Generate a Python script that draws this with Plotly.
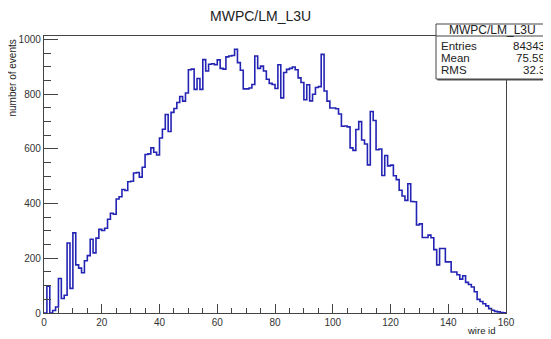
import plotly.graph_objects as go

# ---- data ----
title = "MWPC/LM_L3U"
x_label = "wire id"
y_label = "number of events"
n_bins = 160
x_min, x_max = 0, 160
counts = [
    0, 98, 0, 9, 22, 126, 53, 65, 256, 90,
    293, 176, 164, 147, 191, 210, 270, 220, 274, 306,
    302, 310, 343, 365, 361, 417, 425, 452, 448, 480,
    482, 512, 514, 497, 533, 580, 582, 604, 588, 578,
    640, 672, 726, 664, 734, 748, 770, 792, 775, 805,
    890, 892, 818, 858, 818, 927, 885, 910, 912, 908,
    926, 895, 892, 937, 940, 942, 965, 916, 888, 820,
    820, 823, 836, 940, 895, 903, 885, 855, 840, 836,
    821, 908, 787, 880, 891, 895, 900, 890, 860, 843,
    780, 835, 776, 800, 825, 828, 946, 812, 775, 750,
    750, 747, 728, 683, 684, 681, 604, 595, 671, 700,
    633, 618, 542, 737, 704, 597, 600, 503, 576, 538,
    541, 502, 488, 449, 428, 412, 473, 408, 407, 322,
    326, 276, 276, 285, 275, 232, 176, 236, 236, 187,
    187, 150, 150, 140, 124, 136, 112, 104, 95, 78,
    50, 42, 34, 26, 16, 10, 6, 4, 2, 1,
]
stats_labels = ["Entries", "Mean", "RMS"]
stats_values = ["84343", "75.59", "32.3"]
x_tickvals = [0, 20, 40, 60, 80, 100, 120, 140, 160]
y_tickvals = [0, 200, 400, 600, 800, 1000]

# ---- figure ----
PAGE_W, PAGE_H = 551, 339
OFF = 8  # default body margin of the html page
L, R, T, B = 44, 506, 36, 313  # plot area in page pixels
bw = (x_max - x_min) / n_bins
edges = [x_min + i * bw for i in range(n_bins + 1)]
ys = counts + [counts[-1]]
y_top = max(counts) * 1.05

FONT = "Liberation Sans, Arial, sans-serif"
AX = "#444444"

fig = go.Figure()
fig.add_trace(go.Scatter(
    x=edges, y=ys, mode="lines", line=dict(shape="hv", color="#2424b4", width=1.6),
    hoverinfo="skip", showlegend=False,
))

def px_x(p):
    return (p - L) / (R - L)

def px_y(p):
    return (B - p) / (B - T)

fig.update_layout(
    width=PAGE_W - OFF, height=PAGE_H - OFF,
    margin=dict(l=L - OFF, r=PAGE_W - R, t=T - OFF, b=PAGE_H - B, pad=0),
    paper_bgcolor="white", plot_bgcolor="white",
    font=dict(family=FONT, color="#333333", size=10),
    showlegend=False,
)
fig.update_xaxes(
    range=[x_min, x_max], tickvals=x_tickvals, ticks="inside", ticklen=9, tickcolor=AX,
    tickwidth=1, showline=True, linecolor=AX, linewidth=1.3, mirror=True,
    showgrid=False, zeroline=False, tickfont=dict(size=10, color="#333333"),
    minor=dict(dtick=5, tick0=0, ticks="inside", ticklen=5, tickcolor=AX, showgrid=False),
)
fig.update_yaxes(
    range=[0, y_top], tickvals=y_tickvals, ticks="inside", ticklen=14, tickcolor=AX,
    tickwidth=1, showline=True, linecolor=AX, linewidth=1.3, mirror=True,
    showgrid=False, zeroline=False, tickfont=dict(size=10, color="#333333"),
    minor=dict(dtick=50, tick0=0, ticks="inside", ticklen=7, tickcolor=AX, showgrid=False),
)

ann = []
# main title
ann.append(dict(text=title, x=px_x(260), y=px_y(16), xref="paper", yref="paper",
                xanchor="center", yanchor="middle", showarrow=False,
                font=dict(size=14, color="#222222", family=FONT)))
# axis titles
ann.append(dict(text=y_label, x=px_x(12), y=px_y(38), xref="paper", yref="paper",
                xanchor="center", yanchor="top", textangle=-90, showarrow=False,
                font=dict(size=10, color="#222222", family=FONT)))
ann.append(dict(text=x_label, x=px_x(497), y=px_y(330), xref="paper", yref="paper",
                xanchor="right", yanchor="middle", showarrow=False,
                font=dict(size=9.5, color="#222222", family=FONT)))

# stats box
bx0, bx1, by0, by1 = 436, 549, 24, 79
shapes = [
    dict(type="rect", xref="paper", yref="paper", x0=px_x(bx0 + 1.5), x1=px_x(bx1 + 1.5),
         y0=px_y(by1 + 1.5), y1=px_y(by0 + 1.5), line=dict(width=0), fillcolor="#555555", layer="above"),
    dict(type="rect", xref="paper", yref="paper", x0=px_x(bx0), x1=px_x(bx1),
         y0=px_y(by1), y1=px_y(by0), line=dict(width=1, color="#444444"), fillcolor="white", layer="above"),
    dict(type="line", xref="paper", yref="paper", x0=px_x(bx0), x1=px_x(bx1),
         y0=px_y(36), y1=px_y(36), line=dict(width=1, color="#444444"), layer="above"),
]
ann.append(dict(text=title, x=px_x((bx0 + bx1) / 2), y=px_y(30), xref="paper", yref="paper",
                xanchor="center", yanchor="middle", showarrow=False,
                font=dict(size=12, color="#222222", family=FONT)))
row_y = [46.5, 58, 70]
for lab, val, ry in zip(stats_labels, stats_values, row_y):
    ann.append(dict(text=lab, x=px_x(bx0 + 3), y=px_y(ry), xref="paper", yref="paper",
                    xanchor="left", yanchor="middle", showarrow=False,
                    font=dict(size=11.5, color="#222222", family=FONT)))
    ann.append(dict(text=val, x=px_x(bx1 - 2), y=px_y(ry), xref="paper", yref="paper",
                    xanchor="right", yanchor="middle", showarrow=False,
                    font=dict(size=11.5, color="#222222", family=FONT)))

fig.update_layout(annotations=ann, shapes=shapes)
fig.write_html("out.html")
